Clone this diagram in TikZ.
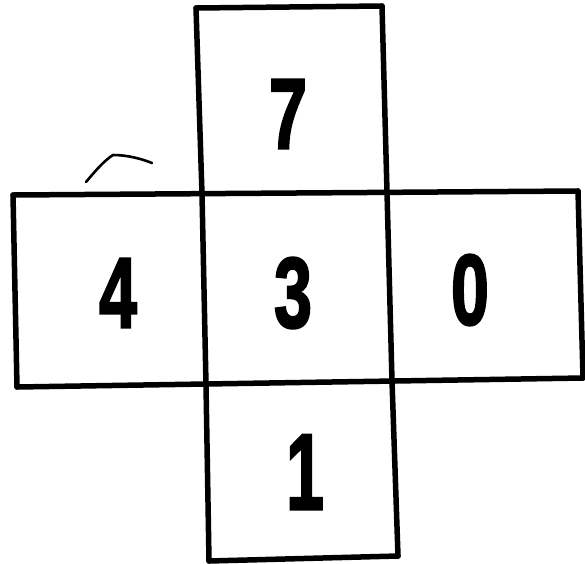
\documentclass[tikz,border=0pt]{standalone}
\usepackage{fontspec}
\setmainfont{Liberation Sans}
\newfontfamily\digitfont{Liberation Sans Bold}[FakeBold=2.5]
\begin{document}
\begin{tikzpicture}[x=1pt,y=-1pt,
  netline/.style={line width=5.5pt,line cap=round,line join=round},
  digit/.style={inner sep=0pt,font=\fontsize{100}{100}\digitfont,xscale=0.68}]
\useasboundingbox[fill=white] (0,0) rectangle (585,563);
% corner coordinates
\coordinate (tl) at (196,8);
\coordinate (tr) at (382,6);
\coordinate (ml1) at (202,194);
\coordinate (mr1) at (387,192);
\coordinate (ml2) at (206,385);
\coordinate (mr2) at (392,381);
\coordinate (bl) at (209,561);
\coordinate (br) at (398,556);
\coordinate (rl1) at (13,195);
\coordinate (rr1) at (578,191);
\coordinate (rl2) at (17,387);
\coordinate (rr2) at (583,378);
% column
\draw[netline] (tl) -- (tr);
\draw[netline] (tl) -- (ml1) -- (ml2) -- (bl);
\draw[netline] (tr) -- (mr1) -- (mr2) -- (br);
\draw[netline] (bl) -- (br);
% row
\draw[netline] (rl1) -- (rr1);
\draw[netline] (rl2) -- (rr2);
\draw[netline] (rl1) -- (rl2);
\draw[netline] (rr1) -- (rr2);
% stray mark
\draw[line width=2.6pt,line cap=round,line join=round] (86,182) .. controls (96,170) and (105,160) .. (113,155) .. controls (128,155) and (142,159) .. (152,163);
% digits
\node[digit] (n7) at (288,114) {7};
\node[digit] (n4) at (118,293) {4};
\node[digit] (n3) at (293,293) {3};
\node[digit] (n0) at (470,290) {0};
\node[digit,yscale=1.08] (n1) at (305,472) {1};
\end{tikzpicture}
\end{document}
